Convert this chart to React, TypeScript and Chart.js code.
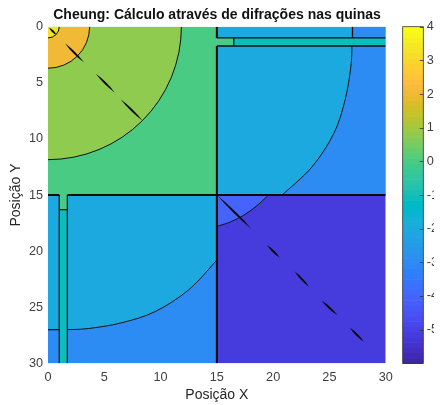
import React, { useEffect, useRef } from "react";
import { Chart, registerables } from "chart.js";

Chart.register(...registerables);

// ---------- text ----------
const titleText = "Cheung: Cálculo através de difrações nas quinas";
const xLabel = "Posição X";
const yLabel = "Posição Y";

// ---------- ticks ----------
const xTicks = [0, 5, 10, 15, 20, 25, 30];
const yTicks = [0, 5, 10, 15, 20, 25, 30];
const colorbarTicks = [40, 30, 20, 10, 0, -10, -20, -30, -40, -50];
const colorMin = -60;
const colorMax = 40;

// ---------- data (values in dB) ----------
// rectangular regions: [x0, x1, y0, y1, value]
const rectRegions: number[][] = [
  [0, 15, 0, 15, 0],
  [15, 30, 0, 15, -20],
  [27.05, 30, 0, 1.0, -30],
  [15, 30, 1.0, 1.72, -11],
  [15, 16.5, 1.0, 1.72, 0],
  [0, 15, 15, 30, -20],
  [0, 1.0, 27, 30, -30],
  [1.0, 1.72, 15, 30, -11],
  [1.0, 1.72, 15, 16.3, 0],
  [15, 30, 15, 30, -51],
];

// circular regions around the source at (0,0)
const circleRadii = [11.85, 3.7, 1.0];
const circleValues = [8.5, 20.5, 33];

// curved region boundaries
const arcTopRight: number[][] = [[27.0, 1.72], [26.9, 3.6], [26.4, 6.5], [25.4, 9.5], [23.45, 12.5], [20.8, 15]];
const arcBottomLeft: number[][] = [[1.72, 27.0], [3.6, 26.9], [6.5, 26.4], [9.5, 25.4], [12.5, 23.45], [15, 20.8]];
const arcBottomRight: number[][] = [[15, 17.8], [16.2, 17.4], [17.4, 16.8], [18.5, 16.0], [19.6, 15]];
const arcTopRightValue = -30;
const arcBottomLeftValue = -30;
const arcBottomRightValue = -41;

// thick wall lines
const wallLines: number[][][] = [
  [[15, 0], [15, 1.0]],
  [[15, 1.72], [15, 30]],
  [[0, 15], [1.0, 15]],
  [[1.72, 15], [30, 15]],
];
// thin contour lines
const contourLines: number[][][] = [
  [[15, 1.0], [30, 1.0]],
  [[15, 1.72], [30, 1.72]],
  [[16.5, 1.0], [16.5, 1.72]],
  [[27.05, 0], [27.05, 1.0]],
  [[1.0, 15], [1.0, 30]],
  [[1.72, 15], [1.72, 30]],
  [[1.0, 16.3], [1.72, 16.3]],
  [[0, 27], [1.0, 27]],
];
// diagonal artefact dashes: [x0, y0, x1, y1]
const diagDashes: number[][] = [
  [0.1, 0.1, 0.75, 0.74],
  [1.5, 1.48, 3.2, 3.2],
  [4.25, 4.2, 5.94, 5.88],
  [6.45, 6.47, 8.4, 8.38],
  [15.05, 15.05, 18.1, 18.05],
  [19.45, 19.45, 20.6, 20.6],
  [21.9, 21.8, 23.2, 23.2],
  [24.3, 24.4, 25.7, 25.7],
  [26.8, 26.8, 28.05, 28.07],
];

// ---------- parula colormap ----------
const parula: number[][] = [
  [0.2422, 0.1504, 0.6603], [0.2504, 0.165, 0.7076], [0.2578, 0.1818, 0.7511], [0.2647, 0.1978, 0.7952],
  [0.2706, 0.2147, 0.8364], [0.2751, 0.2342, 0.871], [0.2783, 0.2559, 0.8991], [0.2803, 0.2782, 0.9221],
  [0.2813, 0.3006, 0.9414], [0.281, 0.3228, 0.9579], [0.2795, 0.3447, 0.9717], [0.276, 0.3667, 0.9829],
  [0.2699, 0.3892, 0.9906], [0.2602, 0.4123, 0.9952], [0.244, 0.4358, 0.9988], [0.2206, 0.4603, 0.9973],
  [0.1963, 0.4847, 0.9892], [0.1834, 0.5074, 0.9798], [0.1786, 0.5289, 0.9682], [0.1764, 0.5499, 0.952],
  [0.1687, 0.5703, 0.9359], [0.154, 0.5902, 0.9218], [0.146, 0.6091, 0.9079], [0.138, 0.6276, 0.8973],
  [0.1248, 0.6459, 0.8883], [0.1113, 0.6635, 0.8763], [0.0952, 0.6798, 0.8598], [0.0689, 0.6948, 0.8394],
  [0.0297, 0.7082, 0.8163], [0.0036, 0.7203, 0.7917], [0.0067, 0.7312, 0.766], [0.0433, 0.7411, 0.7394],
  [0.0964, 0.75, 0.712], [0.1408, 0.7584, 0.6842], [0.1717, 0.767, 0.6554], [0.1938, 0.7758, 0.6251],
  [0.2161, 0.7843, 0.5923], [0.247, 0.7918, 0.5567], [0.2906, 0.7973, 0.5188], [0.3406, 0.8008, 0.4789],
  [0.3909, 0.8029, 0.4354], [0.4456, 0.8024, 0.3909], [0.5044, 0.7993, 0.348], [0.5616, 0.7942, 0.3045],
  [0.6174, 0.7876, 0.2612], [0.672, 0.7793, 0.2227], [0.7242, 0.7698, 0.191], [0.7738, 0.7598, 0.1646],
  [0.8203, 0.7498, 0.1535], [0.8634, 0.7406, 0.1596], [0.9035, 0.733, 0.1774], [0.9393, 0.7288, 0.21],
  [0.9728, 0.7298, 0.2394], [0.9956, 0.7434, 0.2371], [0.997, 0.7659, 0.2199], [0.9952, 0.7893, 0.2028],
  [0.9892, 0.8136, 0.1885], [0.9786, 0.8386, 0.1766], [0.9676, 0.8639, 0.1643], [0.961, 0.889, 0.1537],
  [0.9597, 0.9135, 0.1423], [0.9628, 0.9373, 0.1265], [0.9691, 0.9606, 0.1064], [0.9769, 0.9839, 0.0805],
];

function colorOf(v: number): string {
  let i = Math.floor(((v - colorMin) / (colorMax - colorMin)) * parula.length);
  i = Math.max(0, Math.min(parula.length - 1, i));
  const c = parula[i];
  return `rgb(${Math.round(c[0] * 255)},${Math.round(c[1] * 255)},${Math.round(c[2] * 255)})`;
}

const FONT = "'Liberation Sans', Arial, Helvetica, sans-serif";

function smoothPath(ctx: CanvasRenderingContext2D, pts: number[][], move: boolean) {
  if (move) ctx.moveTo(pts[0][0], pts[0][1]);
  else ctx.lineTo(pts[0][0], pts[0][1]);
  for (let i = 0; i < pts.length - 1; i++) {
    const p0 = pts[i - 1] || pts[i];
    const p1 = pts[i];
    const p2 = pts[i + 1];
    const p3 = pts[i + 2] || p2;
    ctx.bezierCurveTo(
      p1[0] + (p2[0] - p0[0]) / 6, p1[1] + (p2[1] - p0[1]) / 6,
      p2[0] - (p3[0] - p1[0]) / 6, p2[1] - (p3[1] - p1[1]) / 6,
      p2[0], p2[1]
    );
  }
}

function quarterEllipse(ctx: CanvasRenderingContext2D, cx: number, cy: number, rx: number, ry: number, withCenter: boolean) {
  ctx.save();
  ctx.translate(cx, cy);
  ctx.scale(rx, ry);
  ctx.beginPath();
  if (withCenter) ctx.moveTo(0, 0);
  ctx.arc(0, 0, 1, 0, Math.PI / 2, false);
  if (withCenter) ctx.closePath();
  ctx.restore();
}

const heatPlugin = {
  id: "heatmapRegions",
  beforeDatasetsDraw(chart: any) {
    const { ctx, chartArea: a, scales } = chart;
    const X = (v: number) => scales.x.getPixelForValue(v);
    const Y = (v: number) => scales.y.getPixelForValue(v);
    const P = (pts: number[][]) => pts.map((p) => [X(p[0]), Y(p[1])]);
    ctx.save();
    ctx.beginPath();
    ctx.rect(a.left, a.top, a.right - a.left, a.bottom - a.top);
    ctx.clip();

    for (const [x0, x1, y0, y1, v] of rectRegions) {
      const l = X(x0), r = X(x1), t = Y(y0), b = Y(y1);
      ctx.fillStyle = colorOf(v);
      ctx.fillRect(Math.min(l, r), Math.min(t, b), Math.abs(r - l), Math.abs(b - t));
    }

    const cx = X(0), cy = Y(0);
    for (let i = 0; i < circleRadii.length; i++) {
      const r = circleRadii[i];
      quarterEllipse(ctx, cx, cy, Math.abs(X(r) - cx), Math.abs(Y(r) - cy), true);
      ctx.fillStyle = colorOf(circleValues[i]);
      ctx.fill();
    }

    const polys: [number[][], number[][], number][] = [
      [arcTopRight, [[30, 15], [30, 1.72]], arcTopRightValue],
      [arcBottomLeft, [[15, 30], [1.72, 30]], arcBottomLeftValue],
      [arcBottomRight, [[15, 15]], arcBottomRightValue],
    ];
    for (const [arc, rest, v] of polys) {
      ctx.beginPath();
      smoothPath(ctx, P(arc), true);
      for (const p of P(rest)) ctx.lineTo(p[0], p[1]);
      ctx.closePath();
      ctx.fillStyle = colorOf(v);
      ctx.fill();
    }

    // contour lines
    ctx.strokeStyle = "#111";
    ctx.lineWidth = 1;
    for (let i = 0; i < circleRadii.length; i++) {
      const r = circleRadii[i];
      quarterEllipse(ctx, cx, cy, Math.abs(X(r) - cx), Math.abs(Y(r) - cy), false);
      ctx.stroke();
    }
    for (const arc of [arcTopRight, arcBottomLeft, arcBottomRight]) {
      ctx.beginPath();
      smoothPath(ctx, P(arc), true);
      ctx.stroke();
    }
    ctx.lineWidth = 1.3;
    for (const line of contourLines) {
      const q = P(line);
      ctx.beginPath();
      ctx.moveTo(q[0][0], q[0][1]);
      for (const p of q.slice(1)) ctx.lineTo(p[0], p[1]);
      ctx.stroke();
    }
    ctx.lineWidth = 2;
    ctx.strokeStyle = "#0a0a0a";
    for (const line of wallLines) {
      const q = P(line);
      ctx.beginPath();
      ctx.moveTo(q[0][0], q[0][1]);
      for (const p of q.slice(1)) ctx.lineTo(p[0], p[1]);
      ctx.stroke();
    }

    // diagonal dashes (thin lens shapes)
    ctx.fillStyle = "#0a0a0a";
    for (const [x0, y0, x1, y1] of diagDashes) {
      const ax = X(x0), ay = Y(y0), bx = X(x1), by = Y(y1);
      const dx = bx - ax, dy = by - ay;
      const len = Math.hypot(dx, dy) || 1;
      const nx = -dy / len, ny = dx / len;
      const mx = (ax + bx) / 2, my = (ay + by) / 2;
      const w = 2.1;
      ctx.beginPath();
      ctx.moveTo(ax, ay);
      ctx.quadraticCurveTo(mx + nx * w, my + ny * w, bx, by);
      ctx.quadraticCurveTo(mx - nx * w, my - ny * w, ax, ay);
      ctx.fill();
    }
    ctx.restore();

    // colorbar
    const cb = scales.cb;
    const barL = cb.left + 17;
    const barR = cb.left + 37.6;
    const top = cb.getPixelForValue(colorMax);
    const bot = cb.getPixelForValue(colorMin);
    const n = parula.length;
    for (let i = 0; i < n; i++) {
      const v0 = colorMin + ((colorMax - colorMin) * i) / n;
      const v1 = colorMin + ((colorMax - colorMin) * (i + 1)) / n;
      const y0 = cb.getPixelForValue(v0);
      const y1 = cb.getPixelForValue(v1);
      ctx.fillStyle = colorOf((v0 + v1) / 2);
      ctx.fillRect(barL, y1, barR - barL, y0 - y1 + 0.6);
    }
    ctx.strokeStyle = "#333";
    ctx.lineWidth = 0.8;
    ctx.strokeRect(barL, top, barR - barL, bot - top);
    ctx.beginPath();
    for (const t of colorbarTicks) {
      const y = Math.round(cb.getPixelForValue(t)) + 0.5;
      ctx.moveTo(barR - 3.5, y);
      ctx.lineTo(barR, y);
    }
    ctx.stroke();
  },
};

const noPad = (s: any) => {
  s.paddingTop = 0;
  s.paddingBottom = 0;
  s.paddingLeft = 0;
  s.paddingRight = 0;
};

export default function App() {
  const ref = useRef<HTMLCanvasElement | null>(null);
  useEffect(() => {
    if (!ref.current) return;
    const tickFont = { family: FONT, size: 12.7 };
    const labelFont = { family: FONT, size: 14 };
    const chart = new Chart(ref.current, {
      type: "scatter",
      data: { datasets: [] },
      options: {
        animation: false,
        responsive: false,
        devicePixelRatio: 1,
        layout: { padding: { left: 0, right: 10, top: 0, bottom: 0 } },
        plugins: {
          legend: { display: false },
          tooltip: { enabled: false },
          title: {
            display: true,
            text: titleText,
            color: "#111",
            font: { family: FONT, size: 14, weight: "bold" },
            padding: { top: 6.6, bottom: 3.3 },
          },
        },
        scales: {
          x: {
            type: "linear",
            position: "bottom",
            min: 0,
            max: 30,
            afterBuildTicks: (s: any) => {
              s.ticks = xTicks.map((v) => ({ value: v }));
            },
            afterFit: (s: any) => {
              s.height = 41.7;
              noPad(s);
            },
            ticks: { color: "#404040", font: tickFont, padding: 7, maxRotation: 0, autoSkip: false },
            grid: { display: false, drawTicks: false },
            border: { display: false },
            title: { display: true, text: xLabel, color: "#262626", font: labelFont, padding: { top: 0, bottom: 1.1 } },
          },
          y: {
            type: "linear",
            position: "left",
            reverse: true,
            min: 0,
            max: 30,
            afterBuildTicks: (s: any) => {
              s.ticks = yTicks.map((v) => ({ value: v }));
            },
            afterFit: (s: any) => {
              s.width = 48;
              noPad(s);
            },
            ticks: { color: "#404040", font: tickFont, padding: 5, autoSkip: false },
            grid: { display: false, drawTicks: false },
            border: { display: false },
            title: { display: true, text: yLabel, color: "#262626", font: labelFont, padding: { top: 7.6, bottom: 0 } },
          },
          cb: {
            type: "linear",
            axis: "y",
            position: "right",
            min: colorMin,
            max: colorMax,
            afterBuildTicks: (s: any) => {
              s.ticks = colorbarTicks.map((v) => ({ value: v }));
            },
            afterFit: (s: any) => {
              s.width = 48.3;
              noPad(s);
            },
            ticks: { color: "#404040", font: tickFont, padding: 41, autoSkip: false },
            grid: { display: false, drawTicks: false },
            border: { display: false },
          },
        },
      } as any,
      plugins: [heatPlugin],
    });
    return () => chart.destroy();
  }, []);
  return (
    <div style={{ position: "fixed", left: 0, top: 0, width: 444, height: 405, background: "#fff" }}>
      <canvas ref={ref} width={444} height={405} style={{ width: 444, height: 405, display: "block" }} />
    </div>
  );
}
